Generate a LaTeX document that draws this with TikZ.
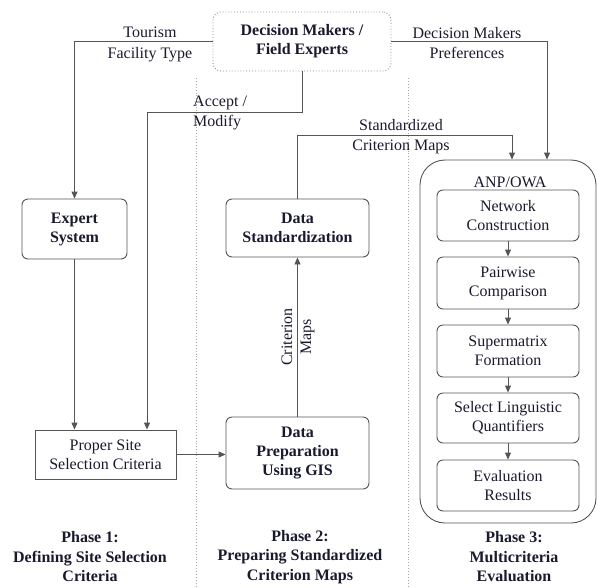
\documentclass[tikz,border=0pt]{standalone}
\usepackage{fontspec}
\setmainfont{Liberation Serif}
\usetikzlibrary{arrows.meta}
\definecolor{edge}{HTML}{555555}
\definecolor{ink}{HTML}{1A1A2E}
\begin{document}
\begin{tikzpicture}[x=1pt,y=-1pt,
  font=\fontsize{16}{19}\selectfont,
  every node/.style={text=ink},
  rbox/.style={draw=edge, line width=0.9pt, rounded corners=6pt, align=center, inner sep=0pt, font=\fontsize{16}{19}\selectfont\bfseries},
  ibox/.style={draw=edge, line width=0.9pt, rounded corners=6pt, align=center, inner sep=0pt, minimum width=142pt},
  lbl/.style={align=center, inner sep=0pt},
  arr/.style={draw=edge, line width=0.9pt, -{Triangle[length=7pt,width=6pt]}},
  sep/.style={draw=gray!70, line width=0.9pt, dotted},
  phase/.style={align=center, inner sep=0pt, font=\fontsize{16}{19.5}\selectfont\bfseries}
]
\useasboundingbox (0,0) rectangle (597,587);

% phase separators
\draw[sep] (196,78) -- (196,587);
\draw[sep] (408,78) -- (408,587);

% nodes
\node[rbox, draw=gray!90, dotted, rounded corners=8pt, minimum width=178pt, minimum height=59pt] (dm) at (302,41.5) {Decision Makers /\\Field Experts};
\node[rbox, minimum width=105pt, minimum height=60pt] (es) at (74.5,229) {Expert\\System};
\node[draw=edge, line width=0.9pt, align=center, inner sep=0pt, minimum width=141pt, minimum height=49pt] (ps) at (105.5,454.5) {Proper Site\\Selection Criteria};
\node[rbox, minimum width=143pt, minimum height=72pt] (dp) at (297.5,453) {Data\\Preparation\\Using GIS};
\node[rbox, minimum width=143pt, minimum height=58pt] (ds) at (297.5,228) {Data\\Standardization};

\node[draw=edge, line width=0.9pt, rounded corners=25pt, minimum width=176pt, minimum height=363pt, inner sep=0pt] (anp) at (508,341.5) {};
\node[lbl] (anpt) at (510,182) {ANP/OWA};
\node[ibox, minimum height=51pt] (nc) at (508,215.5) {Network\\Construction};
\node[ibox, minimum height=52pt] (pc) at (508,283) {Pairwise\\Comparison};
\node[ibox, minimum height=52pt] (sm) at (508,351) {Supermatrix\\Formation};
\node[ibox, minimum height=50pt] (sl) at (508,418) {Select Linguistic\\Quantifiers};
\node[ibox, minimum height=51pt] (er) at (508,485.5) {Evaluation\\Results};

% coordinates
\coordinate (am) at (147,112);
\coordinate (sc) at (512,135);
\coordinate (pr) at (547,41.5);

% connectors
\draw[arr] (dm.west) -| (es.north);
\draw[arr] (es.south) -- (es.south |- ps.north);
\draw[arr] (dm.south) |- (am) -- (am |- ps.north);
\draw[arr] (ps.east) -- (ps.east -| dp.west);
\draw[arr] (dp.north) -- (ds.south);
\draw[arr] (ds.north) |- (sc) -- (sc |- anp.north);
\draw[arr] (dm.east) -- (pr) -- (pr |- anp.north);
\draw[arr] (nc.south) -- (pc.north);
\draw[arr] (pc.south) -- (sm.north);
\draw[arr] (sm.south) -- (sl.north);
\draw[arr] (sl.south) -- (er.north);

% labels
\node[lbl, font=\fontsize{16}{21}\selectfont] (l1) at (150,44) {Tourism\\Facility Type};
\node[lbl, align=left, anchor=west, font=\fontsize{16}{20}\selectfont] (l2) at (193,113) {Accept /\\Modify};
\node[lbl, font=\fontsize{16}{20}\selectfont] (l3) at (467,43) {Decision Makers\\Preferences};
\node[lbl, font=\fontsize{16}{20}\selectfont] (l4) at (401,137) {Standardized\\Criterion Maps};
\node[lbl, rotate=90, font=\fontsize{16}{19}\selectfont] (l5) at (298,337) {Criterion\\Maps};

% phases
\node[phase] (p1) at (90,557) {Phase 1:\\Defining Site Selection\\Criteria};
\node[phase] (p2) at (300,557) {Phase 2:\\Preparing Standardized\\Criterion Maps};
\node[phase] (p3) at (514,557) {Phase 3:\\Multicriteria\\Evaluation};
\end{tikzpicture}
\end{document}
